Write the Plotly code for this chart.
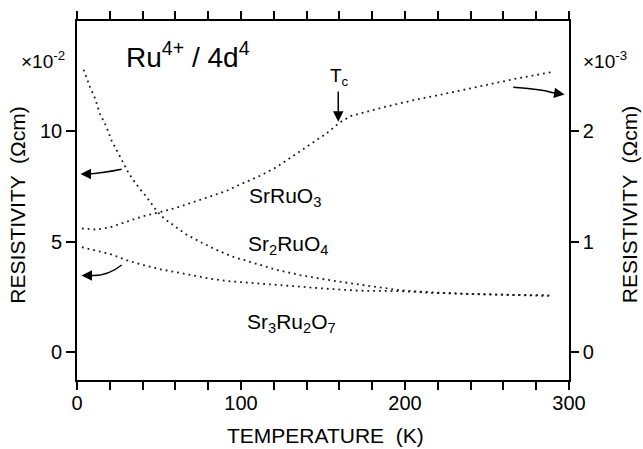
import plotly.graph_objects as go

FONT = "Liberation Sans, Arial, Helvetica, sans-serif"

# Sr2RuO4, left axis (x10^-2 ohm cm)
t_sr2ruo4 = [4, 8, 11, 14, 18, 21, 25, 28, 31, 34, 38, 42, 45, 49, 53, 57, 61, 67,
             75, 85, 95, 108, 122, 136, 152, 173, 197, 217, 238, 258, 288]
rho_sr2ruo4 = [12.8, 12.0, 11.5, 10.8, 10.2, 9.6, 9.04, 8.6, 8.18, 7.83, 7.42, 7.07,
               6.74, 6.36, 6.06, 5.84, 5.61, 5.31, 5.0, 4.63, 4.32, 4.02, 3.72, 3.49,
               3.28, 3.05, 2.80, 2.70, 2.63, 2.60, 2.57]

# Sr3Ru2O7, left axis (x10^-2 ohm cm)
t_sr3ru2o7 = [3, 10, 20, 30, 40, 51, 61, 71, 81, 91, 104, 116, 132, 152, 172, 197,
              217, 238, 260, 288]
rho_sr3ru2o7 = [4.75, 4.63, 4.45, 4.17, 3.95, 3.75, 3.60, 3.45, 3.33, 3.22, 3.14,
                3.10, 2.98, 2.87, 2.78, 2.76, 2.68, 2.63, 2.58, 2.54]

# SrRuO3, right axis (x10^-3 ohm cm)
t_srruo3 = [3, 12, 20, 30, 40, 51, 61, 71, 81, 91, 101, 112, 122, 132, 142, 152,
            160, 167, 187, 207, 227, 248, 268, 290]
rho_srruo3 = [1.12, 1.11, 1.13, 1.18, 1.23, 1.27, 1.31, 1.36, 1.41, 1.46, 1.53,
              1.60, 1.68, 1.78, 1.88, 1.98, 2.08, 2.14, 2.22, 2.29, 2.35, 2.42,
              2.48, 2.54]

x_tick_vals = [0, 20, 40, 60, 80, 100, 120, 140, 160, 180, 200, 220, 240, 260, 280, 300]
x_tick_text = ["0", "", "", "", "", "100", "", "", "", "", "200", "", "", "", "", "300"]
left_tick_vals = [0, 5, 10]
right_tick_vals = [0, 1, 2]

T_c = 160

LEFT_RANGE = [-1.27, 15.01]
RIGHT_RANGE = [LEFT_RANGE[0] / 5, LEFT_RANGE[1] / 5]

DOT = dict(color="#1a1a1a", width=1.8, dash="1.8px,4px")

fig = go.Figure()
fig.add_trace(go.Scatter(x=t_sr2ruo4, y=rho_sr2ruo4, mode="lines", line=DOT,
                         name="Sr2RuO4", yaxis="y"))
fig.add_trace(go.Scatter(x=t_sr3ru2o7, y=rho_sr3ru2o7, mode="lines", line=DOT,
                         name="Sr3Ru2O7", yaxis="y"))
fig.add_trace(go.Scatter(x=t_srruo3, y=rho_srruo3, mode="lines", line=DOT,
                         name="SrRuO3", yaxis="y2"))

axis_common = dict(showgrid=False, zeroline=False, showline=True, linecolor="black",
                   linewidth=1.6, ticks="outside", tickcolor="black", tickwidth=1.5,
                   tickfont=dict(family=FONT, size=20, color="black"))

fig.update_layout(
    width=643, height=449,
    margin=dict(l=77, r=74, t=21, b=69),
    paper_bgcolor="white", plot_bgcolor="white",
    showlegend=False,
    font=dict(family=FONT, color="black"),
    xaxis=dict(range=[0, 300], tickmode="array", tickvals=x_tick_vals,
               ticktext=x_tick_text, ticklen=8, mirror="ticks",
               ticklabelstandoff=-4, **axis_common),
    yaxis=dict(range=LEFT_RANGE, tickmode="array", tickvals=left_tick_vals,
               ticklen=9, **axis_common),
    yaxis2=dict(range=RIGHT_RANGE, tickmode="array", tickvals=right_tick_vals,
                ticklen=8, overlaying="y", side="right", **axis_common),
)

# curved arrow shafts (quadratic paths in data coordinates)
shafts = [
    "M 27.26,8.286 Q 14.02,8.095 6.71,8.073",
    "M 27.26,3.946 Q 18.9,3.447 9.15,3.469",
    "M 266.0,12.005 Q 282.3,11.927 289.6,11.769",
]
for p in shafts:
    fig.add_shape(type="path", path=p, xref="x", yref="y",
                  line=dict(color="black", width=1.5))

# arrow heads and the Tc marker
arrows = [
    (7.93, 8.07, 2.13, 8.07),
    (10.37, 3.469, 2.74, 3.469),
    (288.4, 11.78, 297.3, 11.678),
    (T_c - 0.7, 11.88, T_c - 0.7, 10.44),
]
for ax_, ay_, x_, y_ in arrows:
    fig.add_annotation(x=x_, y=y_, ax=ax_, ay=ay_, xref="x", yref="y",
                       axref="x", ayref="y", text="", showarrow=True,
                       arrowhead=2, arrowsize=1.4, arrowwidth=1.5,
                       arrowcolor="black", standoff=0, startstandoff=0)

def label(text, x, y, size, xref="x", yref="y", xanchor="left", yanchor="middle",
          angle=0):
    fig.add_annotation(x=x, y=y, xref=xref, yref=yref, text=text, showarrow=False,
                       xanchor=xanchor, yanchor=yanchor, textangle=angle,
                       font=dict(family=FONT, size=size, color="black"))

label("SrRuO<sub>3</sub>", 103.5, 7.05, 21)
label("Sr<sub>2</sub>RuO<sub>4</sub>", 102.8, 4.85, 21)
label("Sr<sub>3</sub>Ru<sub>2</sub>O<sub>7</sub>", 102.2, 1.3, 21)
label("T<sub>c</sub>", T_c - 0.2, 12.45, 19, xanchor="center")

label("Ru<sup>4+</sup> / 4d<sup>4</sup>", 0.0956, 0.905, 28, xref="paper", yref="paper")
label("×10<sup>-2</sup>", -0.020, 0.89, 19, xref="paper", yref="paper", xanchor="right")
label("×10<sup>-3</sup>", 1.024, 0.89, 19, xref="paper", yref="paper")

# axis titles (paper coordinates; plot area spans 77..569 px by 21..380 px)
label("TEMPERATURE  (K)", 0.505, -0.155, 21, xref="paper", yref="paper",
      xanchor="center")
label("RESISTIVITY  (Ωcm)", -0.121, 0.487, 21, xref="paper", yref="paper",
      xanchor="center", angle=-90)
label("RESISTIVITY  (Ωcm)", 1.122, 0.487, 21, xref="paper", yref="paper",
      xanchor="center", angle=-90)

fig.write_html("out.html")
